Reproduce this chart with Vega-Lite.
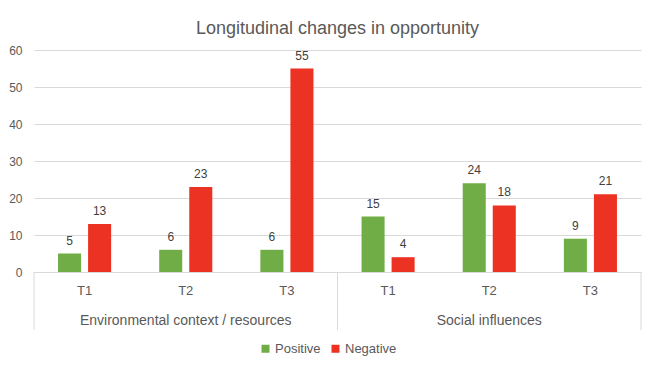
{
  "$schema": "https://vega.github.io/schema/vega-lite/v6.json",
  "autosize": {"type": "none"},
  "width": 607,
  "height": 222,
  "padding": {"left": 34, "top": 50, "right": 15, "bottom": 100},
  "background": "white",
  "config": {
    "font": "Liberation Sans",
    "view": {"stroke": null}
  },
  "title": {
    "text": "Longitudinal changes in opportunity",
    "fontSize": 18,
    "fontWeight": "normal",
    "color": "#595959",
    "anchor": "middle",
    "offset": 6
  },
  "datasets": {
    "counts": [
      {"cat": "Environmental context / resources|T1", "series": "Positive", "value": 5},
      {"cat": "Environmental context / resources|T1", "series": "Negative", "value": 13},
      {"cat": "Environmental context / resources|T2", "series": "Positive", "value": 6},
      {"cat": "Environmental context / resources|T2", "series": "Negative", "value": 23},
      {"cat": "Environmental context / resources|T3", "series": "Positive", "value": 6},
      {"cat": "Environmental context / resources|T3", "series": "Negative", "value": 55},
      {"cat": "Social influences|T1", "series": "Positive", "value": 15},
      {"cat": "Social influences|T1", "series": "Negative", "value": 4},
      {"cat": "Social influences|T2", "series": "Positive", "value": 24},
      {"cat": "Social influences|T2", "series": "Negative", "value": 18},
      {"cat": "Social influences|T3", "series": "Positive", "value": 9},
      {"cat": "Social influences|T3", "series": "Negative", "value": 21}
    ],
    "groups": [
      {"group": "Environmental context / resources", "first": "Environmental context / resources|T1", "middle": "Environmental context / resources|T2", "last": "Environmental context / resources|T3"},
      {"group": "Social influences", "first": "Social influences|T1", "middle": "Social influences|T2", "last": "Social influences|T3"}
    ]
  },
  "layer": [
    {
      "data": {"name": "counts"},
      "mark": {"type": "bar"},
      "encoding": {
        "x": {
          "field": "cat", "type": "nominal", "sort": null,
          "scale": {"paddingInner": 0, "paddingOuter": 0},
          "axis": {
            "title": null,
            "labelExpr": "split(datum.label, '|')[1]",
            "labelAngle": 0,
            "labelFontSize": 13,
            "labelColor": "#595959",
            "labelPadding": 12,
            "ticks": false,
            "domainColor": "#d9d9d9",
            "grid": false
          }
        },
        "xOffset": {
          "field": "series", "type": "nominal", "sort": ["Positive", "Negative"],
          "scale": {"paddingInner": 0.233, "paddingOuter": 0.8}
        },
        "y": {
          "field": "value", "type": "quantitative",
          "scale": {"domain": [0, 60], "nice": false},
          "axis": {
            "title": null,
            "values": [0, 10, 20, 30, 40, 50, 60],
            "tickCount": 7,
            "labelOverlap": false,
            "domain": false,
            "ticks": false,
            "labelPadding": 12,
            "labelFontSize": 12,
            "labelColor": "#595959",
            "gridColor": "#d9d9d9"
          }
        },
        "color": {
          "field": "series", "type": "nominal",
          "sort": ["Positive", "Negative"],
          "scale": {"domain": ["Positive", "Negative"], "range": ["#70AD47", "#EC3323"]},
          "legend": {
            "title": null,
            "orient": "none",
            "legendX": 225,
            "legendY": 292,
            "direction": "horizontal",
            "symbolType": "square",
            "symbolSize": 64,
            "symbolStrokeWidth": 0,
            "labelFontSize": 13,
            "labelColor": "#595959",
            "columnPadding": 8,
            "labelOffset": 3
          }
        }
      }
    },
    {
      "data": {"name": "counts"},
      "mark": {"type": "text", "baseline": "bottom", "dy": -6, "fontSize": 12, "color": "#404040"},
      "encoding": {
        "x": {"field": "cat", "type": "nominal", "sort": null},
        "xOffset": {"field": "series", "type": "nominal", "sort": ["Positive", "Negative"]},
        "y": {"field": "value", "type": "quantitative"},
        "text": {"field": "value", "type": "quantitative"}
      }
    },
    {
      "data": {"name": "groups"},
      "mark": {"type": "rule", "color": "#d9d9d9", "clip": false},
      "encoding": {
        "x": {"field": "first", "type": "nominal", "sort": null, "bandPosition": 0},
        "y": {"datum": 0},
        "y2": {"datum": -15.7}
      }
    },
    {
      "data": {"name": "groups"},
      "transform": [{"filter": "datum.group === 'Social influences'"}],
      "mark": {"type": "rule", "color": "#d9d9d9", "clip": false},
      "encoding": {
        "x": {"field": "last", "type": "nominal", "sort": null, "bandPosition": 1},
        "y": {"datum": 0},
        "y2": {"datum": -15.7}
      }
    },
    {
      "data": {"name": "groups"},
      "mark": {"type": "text", "baseline": "middle", "dy": 49, "fontSize": 14, "color": "#595959", "clip": false},
      "encoding": {
        "x": {"field": "middle", "type": "nominal", "sort": null},
        "y": {"datum": 0},
        "text": {"field": "group", "type": "nominal"}
      }
    }
  ]
}
